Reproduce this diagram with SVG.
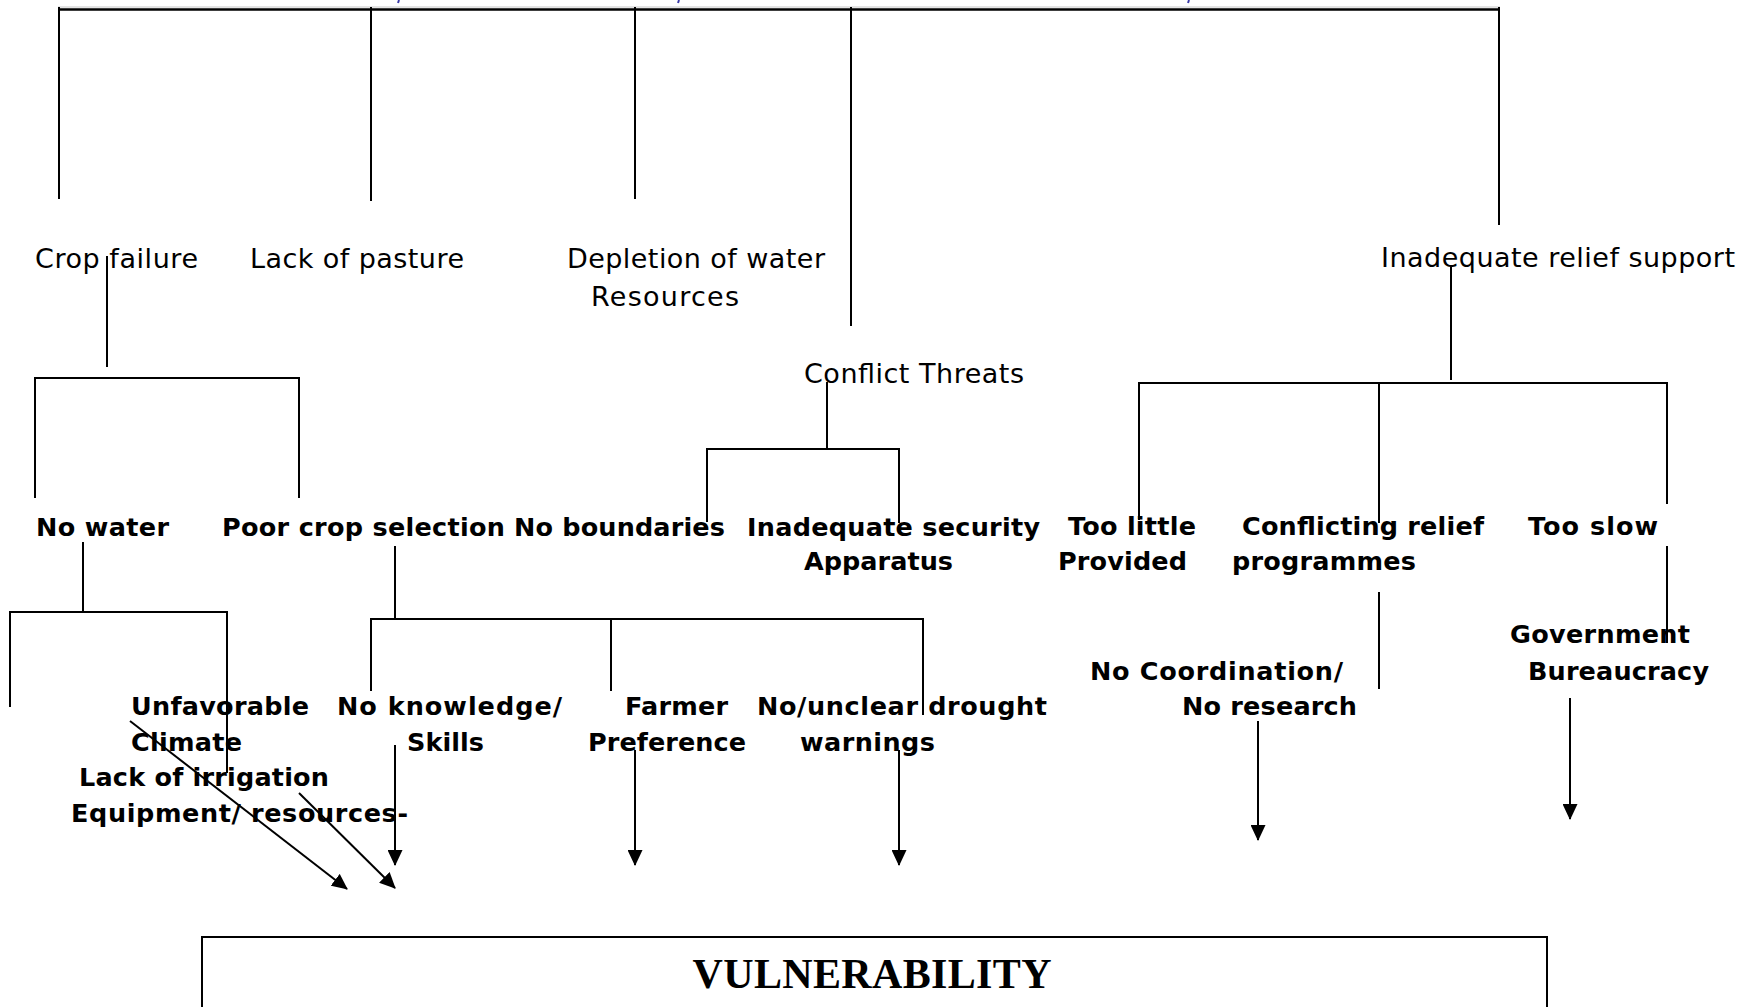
<svg xmlns="http://www.w3.org/2000/svg" width="1752" height="1007" viewBox="0 0 1752 1007">
<style>
  .r { font-family: "DejaVu Sans", "Liberation Sans", sans-serif; font-size: 27px; fill: #000; }
  .b { font-family: "DejaVu Sans", "Liberation Sans", sans-serif; font-size: 25.5px; font-weight: bold; fill: #000; }
  .t { font-family: "Liberation Serif", "Times New Roman", serif; font-size: 42px; font-weight: bold; fill: #000; }
  .ln { fill: none; stroke: #000; stroke-width: 2; }
  .ar { fill: none; stroke: #000; stroke-width: 2; marker-end: url(#ah); }
</style>
<defs>
  <marker id="ah" markerUnits="userSpaceOnUse" markerWidth="16" markerHeight="15" refX="15" refY="7.5" orient="auto">
    <path d="M0,0 L16,7.5 L0,15 z" fill="#000"/>
  </marker>
</defs>
<rect width="1752" height="1007" fill="#fff"/>

<g id="top-fragments">
  <line x1="399" y1="0" x2="398" y2="3" stroke="#3a3aa8" stroke-width="2"/>
  <line x1="679" y1="0" x2="678" y2="3" stroke="#3a3aa8" stroke-width="2"/>
  <line x1="1189" y1="0" x2="1188" y2="3" stroke="#3a3aa8" stroke-width="2"/>
</g>

<g id="connectors">
  <line x1="58" y1="7" x2="1500" y2="7" stroke="#c8c8c8" stroke-width="1"/>
  <line x1="58" y1="9.5" x2="1500" y2="9.5" stroke="#000" stroke-width="2.5"/>
  <path class="ln" d="M59,7 V199 M371,7 V201 M635,7 V199 M851,7 V326 M1499,7 V225"/>
  <!-- crop failure -->
  <path class="ln" d="M107,256 V367 M35,498 V378 H299 V498"/>
  <!-- conflict threats -->
  <path class="ln" d="M827,382 V449 M707,522 V449 H899 V523"/>
  <!-- inadequate relief -->
  <path class="ln" d="M1451,267 V380 M1139,520 V383 H1667 V504 M1379,383 V523 M1667,546 V643 M1379,592 V689"/>
  <path class="ar" d="M1258,721 V840"/>
  <path class="ar" d="M1570,698 V819"/>
  <!-- no water -->
  <path class="ln" d="M83,542 V612 M10,707 V612 H227 V773"/>
  <!-- poor crop selection -->
  <path class="ln" d="M395,546 V619 M371,691 V619 H923 V715 M611,619 V691"/>
  <path class="ar" d="M130,721 L347,889"/>
  <path class="ar" d="M299,793 L395,888"/>
  <path class="ar" d="M395,745 V865"/>
  <path class="ar" d="M635,750 V865"/>
  <path class="ar" d="M899,750 V865"/>
</g>

<g id="n-crop-failure"><text class="r" x="35" y="268" textLength="163" lengthAdjust="spacing">Crop failure</text></g>
<g id="n-lack-pasture"><text class="r" x="250" y="268" textLength="214" lengthAdjust="spacing">Lack of pasture</text></g>
<g id="n-depletion">
  <text class="r" x="567" y="268" textLength="258" lengthAdjust="spacing">Depletion of water</text>
  <text class="r" x="591" y="306" textLength="148" lengthAdjust="spacing">Resources</text>
</g>
<g id="n-conflict"><text class="r" x="804" y="383" textLength="220" lengthAdjust="spacing">Conflict Threats</text></g>
<g id="n-relief"><text class="r" x="1381" y="267" textLength="354" lengthAdjust="spacing">Inadequate relief support</text></g>

<g id="n-no-water"><text class="b" x="36" y="536" textLength="133" lengthAdjust="spacing">No water</text></g>
<g id="n-poor-crop"><text class="b" x="222" y="536" textLength="283" lengthAdjust="spacing">Poor crop selection</text></g>
<g id="n-no-boundaries"><text class="b" x="514" y="536" textLength="211" lengthAdjust="spacing">No boundaries</text></g>
<g id="n-security">
  <text class="b" x="747" y="536" textLength="293" lengthAdjust="spacing">Inadequate security</text>
  <text class="b" x="804" y="570" textLength="149" lengthAdjust="spacing">Apparatus</text>
</g>
<g id="n-too-little">
  <text class="b" x="1068" y="535" textLength="128" lengthAdjust="spacing">Too little</text>
  <text class="b" x="1058" y="570" textLength="129" lengthAdjust="spacing">Provided</text>
</g>
<g id="n-conflicting">
  <text class="b" x="1242" y="535" textLength="242" lengthAdjust="spacing">Conflicting relief</text>
  <text class="b" x="1232" y="570" textLength="184" lengthAdjust="spacing">programmes</text>
</g>
<g id="n-too-slow"><text class="b" x="1528" y="535" textLength="130" lengthAdjust="spacing">Too slow</text></g>
<g id="n-government">
  <text class="b" x="1510" y="643" textLength="180" lengthAdjust="spacing">Government</text>
  <text class="b" x="1528" y="680" textLength="181" lengthAdjust="spacing">Bureaucracy</text>
</g>
<g id="n-coordination">
  <text class="b" x="1090" y="680" textLength="253" lengthAdjust="spacing">No Coordination/</text>
  <text class="b" x="1182" y="715" textLength="175" lengthAdjust="spacing">No research</text>
</g>
<g id="n-climate">
  <text class="b" x="131" y="715" textLength="178" lengthAdjust="spacing">Unfavorable</text>
  <text class="b" x="131" y="751" textLength="111" lengthAdjust="spacing">Climate</text>
</g>
<g id="n-irrigation">
  <text class="b" x="79" y="786" textLength="250" lengthAdjust="spacing">Lack of irrigation</text>
  <text class="b" x="71" y="822" textLength="337" lengthAdjust="spacing">Equipment/ resources-</text>
</g>
<g id="n-knowledge">
  <text class="b" x="337" y="715" textLength="225" lengthAdjust="spacing">No knowledge/</text>
  <text class="b" x="407" y="751" textLength="77" lengthAdjust="spacing">Skills</text>
</g>
<g id="n-farmer">
  <text class="b" x="625" y="715" textLength="103" lengthAdjust="spacing">Farmer</text>
  <text class="b" x="588" y="751" textLength="158" lengthAdjust="spacing">Preference</text>
</g>
<g id="n-warnings">
  <text class="b" x="757" y="715" textLength="290" lengthAdjust="spacing">No/unclear drought</text>
  <text class="b" x="800" y="751" textLength="135" lengthAdjust="spacing">warnings</text>
</g>

<g id="n-vulnerability">
  <rect x="202" y="937" width="1345" height="100" fill="none" stroke="#000" stroke-width="2"/>
  <text class="t" x="872" y="988" text-anchor="middle" textLength="359" lengthAdjust="spacing">VULNERABILITY</text>
</g>
</svg>
